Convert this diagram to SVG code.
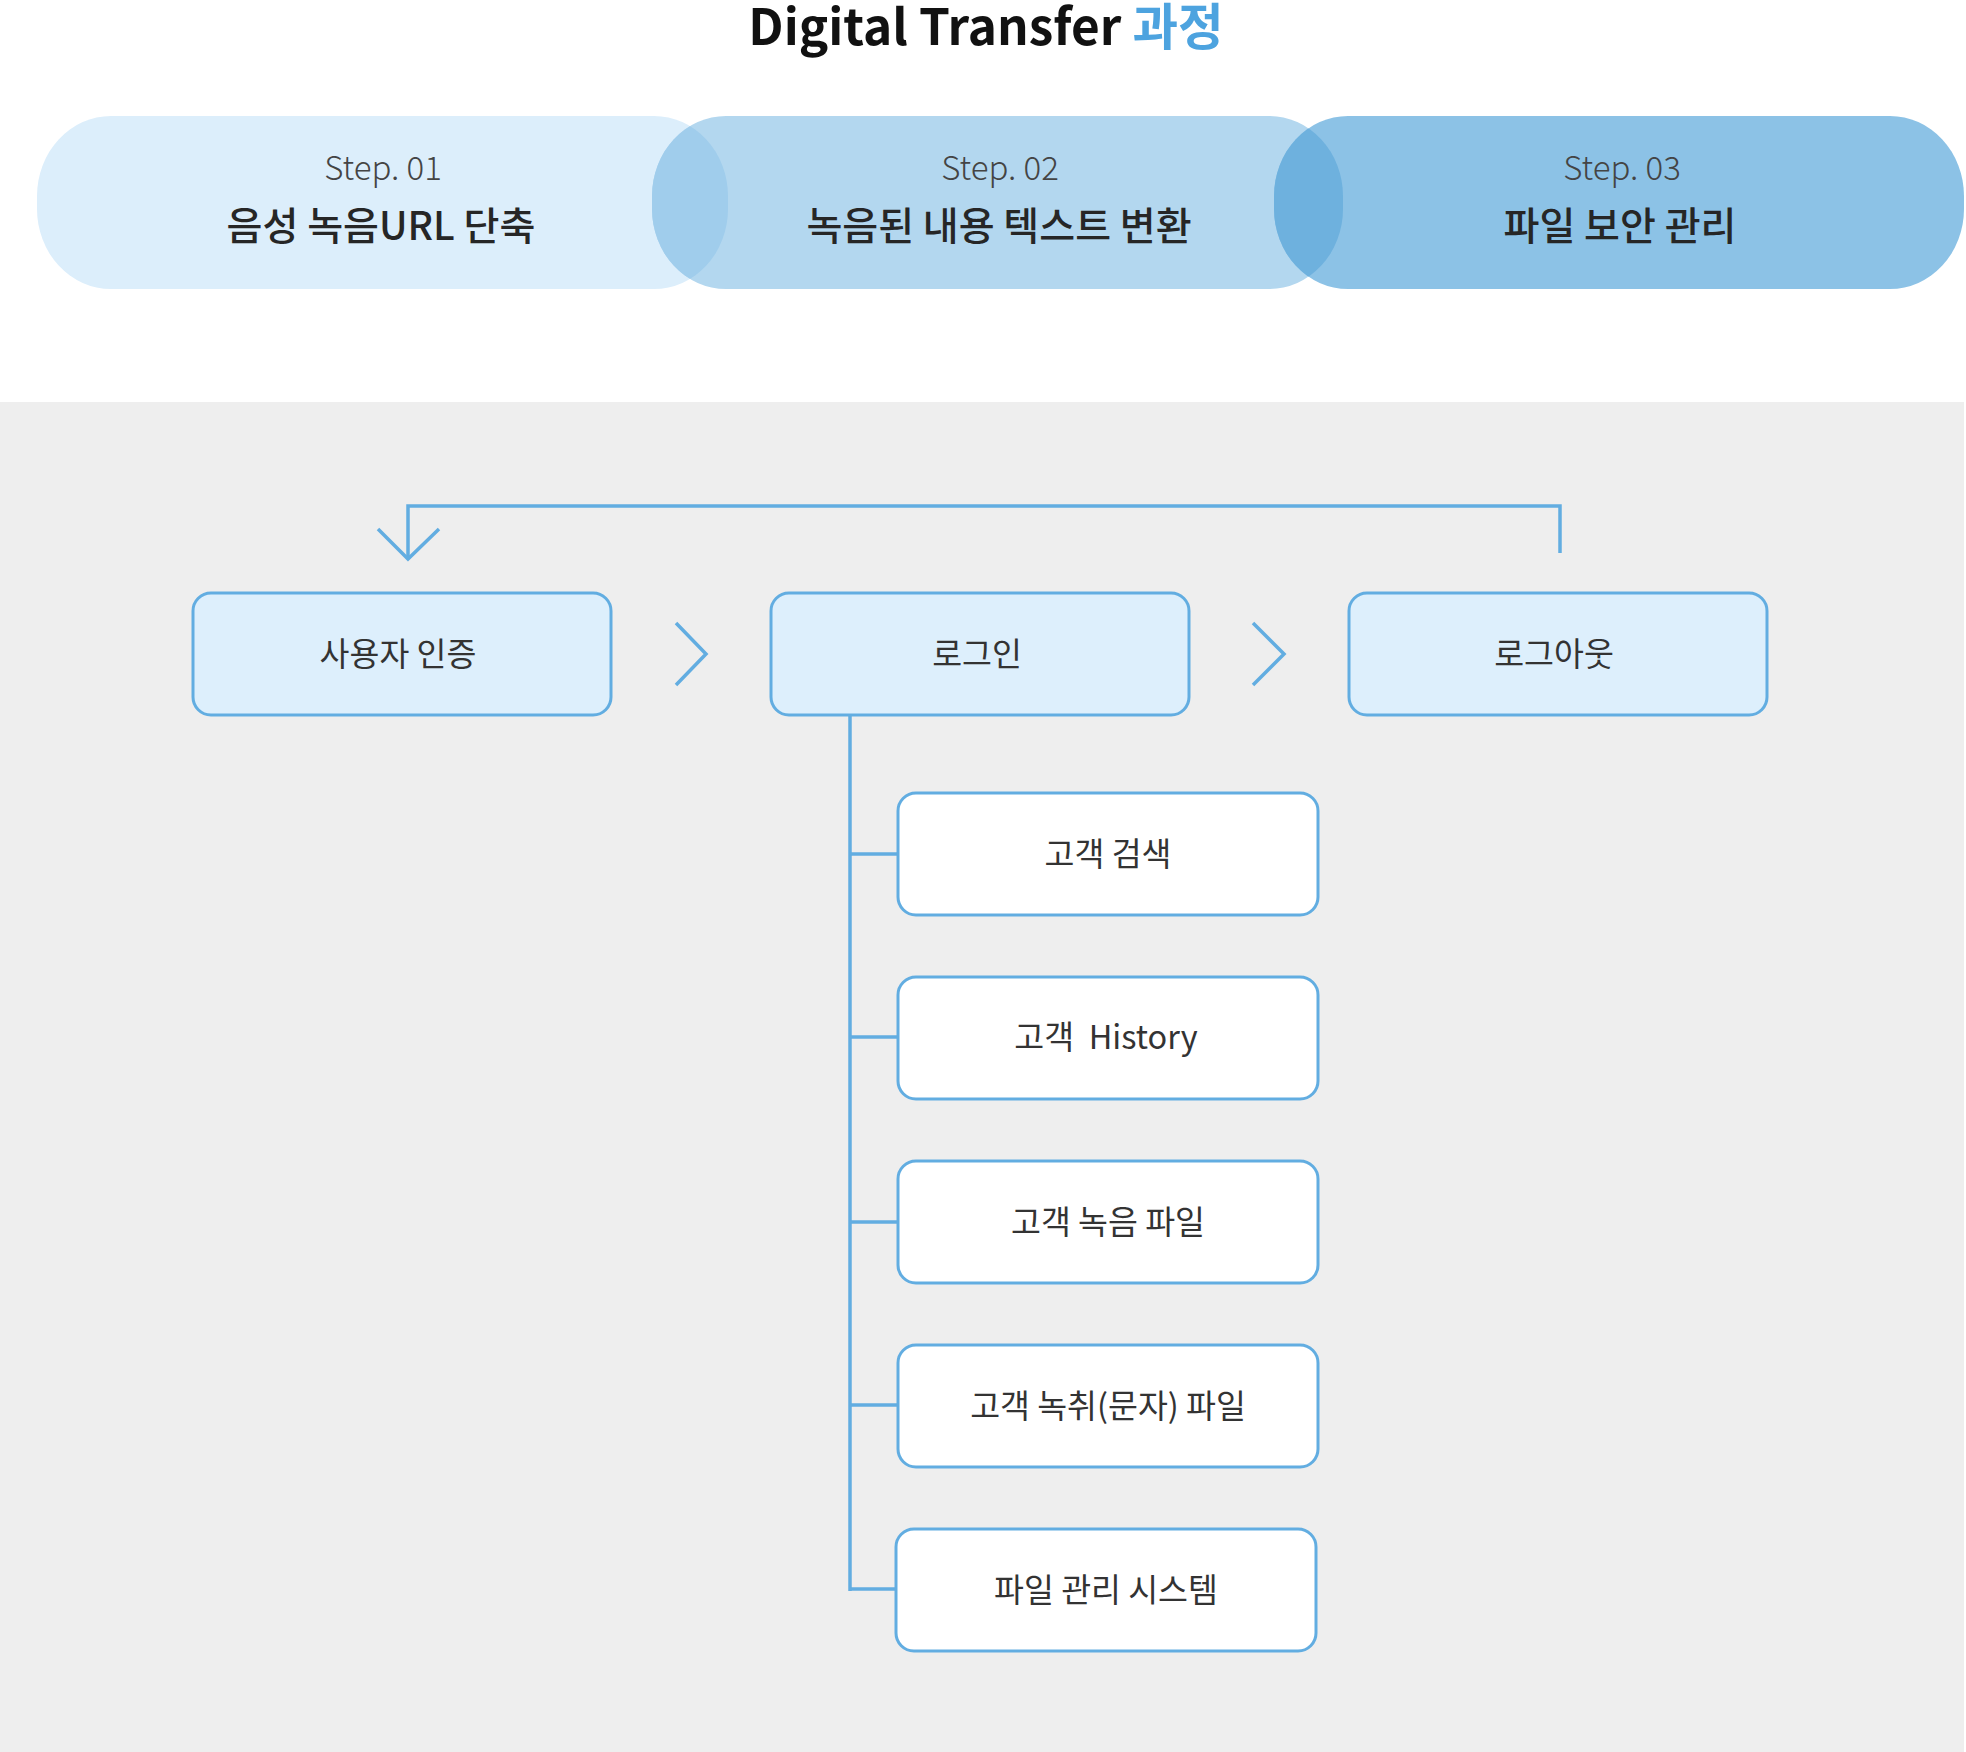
<svg xmlns="http://www.w3.org/2000/svg" width="1966" height="1752" viewBox="0 0 1966 1752">
<defs>
<style>
.t{font-family:"Noto Sans CJK KR","Noto Sans",sans-serif;text-anchor:middle}
.title{font-size:49.5px;font-weight:700;fill:#111}
.step{font-size:33px;font-weight:300;fill:#444}
.ptxt{font-size:39px;font-weight:500;fill:#262626}
.btxt{font-size:32.5px;font-weight:400;fill:#333}
.mbox{fill:#DDEFFC;stroke:#62ADE1;stroke-width:3}
.sbox{fill:#FFFFFF;stroke:#62ADE1;stroke-width:3}
.ln{fill:none;stroke:#62ADE1;stroke-width:3.5;stroke-linejoin:miter}
</style>
<clipPath id="c1"><rect x="37" y="116" width="691" height="173" rx="74" ry="80"/></clipPath>
<clipPath id="c2"><rect x="652" y="116" width="691" height="173" rx="74" ry="80"/></clipPath>
</defs>
<rect x="0" y="0" width="1966" height="1752" fill="#FFFFFF"/>
<rect id="panel" x="0" y="402" width="1964" height="1350" fill="#EEEEEE"/>

<text class="t title" x="986" y="45">Digital Transfer <tspan fill="#4DA3DF">과정</tspan></text>

<g id="step1">
<rect x="37" y="116" width="691" height="173" rx="74" ry="80" fill="#DCEEFB"/>
</g>
<g id="step2">
<rect x="652" y="116" width="691" height="173" rx="74" ry="80" fill="#B3D7EF"/>
<g clip-path="url(#c1)"><rect x="652" y="116" width="691" height="173" rx="74" ry="80" fill="#A0CDEC"/></g>
</g>
<g id="step3">
<rect x="1274" y="116" width="690" height="173" rx="74" ry="80" fill="#8CC2E6"/>
<g clip-path="url(#c2)"><rect x="1274" y="116" width="690" height="173" rx="74" ry="80" fill="#6EB1DE"/></g>
</g>
<g id="step-labels">
<text class="t step" x="383" y="180">Step. 01</text>
<text class="t ptxt" x="381" y="240">음성 녹음URL 단축</text>
<text class="t step" x="1000" y="180">Step. 02</text>
<text class="t ptxt" x="999" y="240">녹음된 내용 텍스트 변환</text>
<text class="t step" x="1622" y="180">Step. 03</text>
<text class="t ptxt" x="1620" y="240">파일 보안 관리</text>
</g>

<g id="connectors">
<polyline class="ln" points="1560,553 1560,506 408,506 408,558"/>
<polyline class="ln" points="378,529 408,559 439,529"/>
<polyline class="ln" points="676,623 706,654 676,685"/>
<polyline class="ln" points="1253,623 1284,654 1253,685"/>
<line class="ln" x1="850" y1="715" x2="850" y2="1591"/>
<line class="ln" x1="850" y1="854" x2="898" y2="854"/>
<line class="ln" x1="850" y1="1037" x2="898" y2="1037"/>
<line class="ln" x1="850" y1="1222" x2="898" y2="1222"/>
<line class="ln" x1="850" y1="1405" x2="898" y2="1405"/>
<line class="ln" x1="850" y1="1589" x2="896" y2="1589"/>
</g>

<g id="auth"><rect class="mbox" x="193" y="593" width="418" height="122" rx="18"/><text class="t btxt" x="398" y="666">사용자 인증</text></g>
<g id="login"><rect class="mbox" x="771" y="593" width="418" height="122" rx="18"/><text class="t btxt" x="977" y="666">로그인</text></g>
<g id="logout"><rect class="mbox" x="1349" y="593" width="418" height="122" rx="18"/><text class="t btxt" x="1554" y="666">로그아웃</text></g>

<g id="search"><rect class="sbox" x="898" y="793" width="420" height="122" rx="18"/><text class="t btxt" x="1108" y="866">고객 검색</text></g>
<g id="history"><rect class="sbox" x="898" y="977" width="420" height="122" rx="18"/><text class="t btxt" x="1106" y="1049" xml:space="preserve">고객  History</text></g>
<g id="recfile"><rect class="sbox" x="898" y="1161" width="420" height="122" rx="18"/><text class="t btxt" x="1108" y="1234">고객 녹음 파일</text></g>
<g id="transcript"><rect class="sbox" x="898" y="1345" width="420" height="122" rx="18"/><text class="t btxt" x="1108" y="1418">고객 녹취(문자) 파일</text></g>
<g id="filesys"><rect class="sbox" x="896" y="1529" width="420" height="122" rx="18"/><text class="t btxt" x="1106" y="1602">파일 관리 시스템</text></g>
</svg>
